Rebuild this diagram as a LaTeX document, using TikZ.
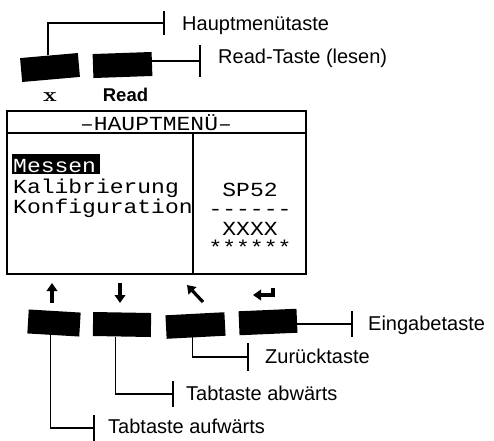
\documentclass[tikz,border=0pt]{standalone}
\usepackage{fontspec}
\setmainfont{Liberation Sans}
\newfontfamily\lcdfont{Liberation Mono}
\usetikzlibrary{arrows.meta}
\begin{document}
\begin{tikzpicture}[x=1pt,y=-1pt,
  keycap/.style={fill=black, draw=none, inner sep=0pt, minimum height=24pt},
  conn/.style={line width=1.3pt},
  lbl/.style={inner sep=0pt, anchor=base west, font=\fontsize{20}{22}\selectfont},
  lcd/.style={inner sep=0pt, font=\lcdfont\fontsize{20}{20}\selectfont, xscale=1.15},
  glyph/.style={line width=3.2pt, -{Triangle[width=10.5pt,length=8pt]}},
  screenline/.style={line width=2pt}]
\useasboundingbox (0,0) rectangle (494,440);

% top keys
\node[keycap, minimum width=58pt, rotate=5] (kx) at (50,67.5) {};
\node[keycap, minimum width=59pt, rotate=2] (kread) at (122.5,65) {};
\node[inner sep=0pt, font=\fontfamily{lmr}\bfseries\fontsize{20}{22}\selectfont, xscale=1.3] (lx) at (50,97) {x};
\node[inner sep=0pt, font=\bfseries\fontsize{18.5}{22}\selectfont] (lread) at (125.5,95) {Read};

% top connectors
\coordinate (tH) at (164,23);
\coordinate (tR) at (200,61);
\draw[conn] ([xshift=-1pt]kx.north) |- (tH);
\draw[conn] (tH) ++(0,-12) -- ++(0,24);
\draw[conn] (tR -| kread.east) -- (tR);
\draw[conn] (tR) ++(0,-16) -- ++(0,32);
\node[lbl] (lH) at (182,30.5) {Hauptmenütaste};
\node[lbl] (lR) at (218,63.5) {Read-Taste (lesen)};

% screen
\draw[screenline] (7,111) rectangle (306,274);
\draw[screenline] (7,133) -- (306,133);
\draw[screenline] (193,133) -- (193,274);
\node[lcd] (title) at (156,123) {–HAUPTMENÜ–};
\fill (12,154) rectangle (100,174);
\node[lcd, anchor=base west, text=white] (m1) at (13,172) {Messen};
\node[lcd, anchor=base west] (m2) at (13,193.5) {Kalibrierung};
\node[lcd, anchor=base west] (m3) at (13,213) {Konfiguration};
\node[lcd, anchor=north, align=center] (rp) at (250,183)
  {SP52\\[-1.5pt]------\\[0.5pt]XXXX\\[-1pt]******};

% glyphs above bottom keys
\draw[glyph] (52,303) -- (52,283);
\draw[glyph] (120,283) -- (120,303);
\draw[glyph] (203,302) -- (187,285);
\draw[glyph, line join=miter] (273,287.5) -- (273,295) -- (253,295);

% bottom keys
\node[keycap, minimum width=52pt, rotate=-3.4] (k1) at (54,323) {};
\node[keycap, minimum width=58pt, rotate=-1] (k2) at (122,324.5) {};
\node[keycap, minimum width=59pt, minimum height=23.5pt, rotate=3] (k3) at (195.5,325.5) {};
\node[keycap, minimum width=58pt, rotate=2.5] (k4) at (268,322) {};

% bottom connectors
\coordinate (t1) at (94,428);
\coordinate (t2) at (173,394);
\coordinate (t3) at (248,357);
\coordinate (t4) at (352,324);
\draw[conn] ([xshift=-3pt]k1.south) |- (t1);
\draw[conn] (t1) ++(0,-13) -- ++(0,26);
\draw[conn] ([xshift=-6pt]k2.south) |- (t2);
\draw[conn] (t2) ++(0,-13) -- ++(0,26);
\draw[conn] ([xshift=-3.5pt]k3.south) |- (t3);
\draw[conn] (t3) ++(0,-14) -- ++(0,28);
\draw[conn] (t4 -| k4.east) -- (t4);
\draw[conn] (t4) ++(0,-13) -- ++(0,26);
\node[lbl] (l1) at (108,433.5) {Tabtaste aufwärts};
\node[lbl] (l2) at (186,400) {Tabtaste abwärts};
\node[lbl] (l3) at (265,363) {Zurücktaste};
\node[lbl] (l4) at (368,330.5) {Eingabetaste};
\end{tikzpicture}
\end{document}
